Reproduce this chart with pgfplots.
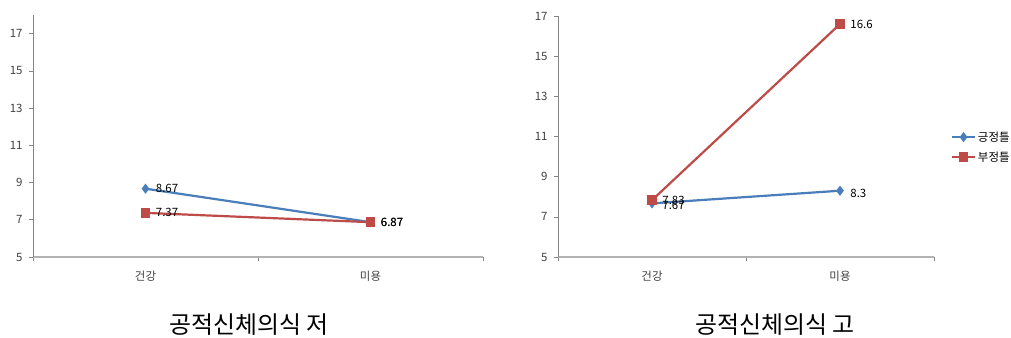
\documentclass[border=0pt]{standalone}
\usepackage{fontspec}
\setmainfont{Noto Sans CJK KR}
\usepackage{pgfplots}
\pgfplotsset{compat=1.18}
\definecolor{xlblue}{HTML}{4A7EBB}
\definecolor{xlred}{HTML}{BE4B48}
\definecolor{axgray}{HTML}{868686}
\definecolor{txtgray}{HTML}{404040}

\pgfplotsset{common/.style={
  scale only axis,
  axis x line*=bottom, axis y line*=left,
  y axis line style={axgray, line width=0.8bp},
  x axis line style={draw=black!30, line width=1.4bp},
  xmin=-0.5, xmax=1.5, ymin=5,
  ytick={5,7,...,17},
  xtick={-0.5,0.5,1.5}, xticklabels={},
  extra x ticks={0,1}, extra x tick labels={건강,미용},
  extra x tick style={major tick length=0pt},
  major tick length=4bp,
  ytick style={axgray, line width=0.6bp},
  xtick style={axgray, line width=0.6bp},
  tick align=outside,
  /pgf/number format/assume math mode=true,
  tick label style={font=\fontsize{11.5}{13}\selectfont, text=txtgray},
  yticklabel style={xshift=-3bp},
  xticklabel style={yshift=-11bp},
  clip=false,
  point meta=explicit symbolic,
  nodes near coords,
  every node near coord/.append style={anchor=west, xshift=6bp, font=\fontsize{11.5}{13}\selectfont, text=black},
  legend image code/.code={\draw[mark repeat=2,mark phase=2] plot coordinates {(0cm,0cm) (0.4cm,0cm) (0.8cm,0cm)};},
}}

\begin{document}
\begin{tikzpicture}
\path[use as bounding box] (0,0) rectangle (1011bp,338bp);

\begin{axis}[common, at={(33bp,81bp)}, anchor=south west,
  width=450bp, height=242bp, ymax=18]
\addplot[color=xlblue, line width=2.2bp, mark=diamond*, mark size=3.3bp, mark options={solid}]
  coordinates {(0,8.67) [8.67] (1,6.87) [6.87]};
\addplot[color=xlred, line width=2.2bp, mark=square*, mark size=3.6bp, mark options={solid}]
  coordinates {(0,7.37) [7.37] (1,6.87) [6.87]};
\end{axis}

\begin{axis}[common, at={(558bp,81bp)}, anchor=south west,
  width=376bp, height=241bp, ymax=17,
  legend style={draw=none, fill=none, at={(1.045,0.456)}, anchor=west,
    font=\fontsize{11.5}{13}\selectfont, row sep=5bp, inner sep=0pt},
  legend cell align=left]
\addplot[color=xlblue, line width=2.2bp, mark=diamond*, mark size=3.3bp, mark options={solid},
  nodes near coords style={yshift=-2.5bp}]
  coordinates {(0,7.67) [7.67] (1,8.3) [8.3]};
\addlegendentry{긍정틀}
\addplot[color=xlred, line width=2.2bp, mark=square*, mark size=3.6bp, mark options={solid}]
  coordinates {(0,7.83) [7.83] (1,16.6) [16.6]};
\addlegendentry{부정틀}
\end{axis}

\node[font=\fontsize{24}{28}\selectfont] at (249bp,13bp) {공적신체의식 저};
\node[font=\fontsize{24}{28}\selectfont] at (775bp,13bp) {공적신체의식 고};
\end{tikzpicture}
\end{document}
